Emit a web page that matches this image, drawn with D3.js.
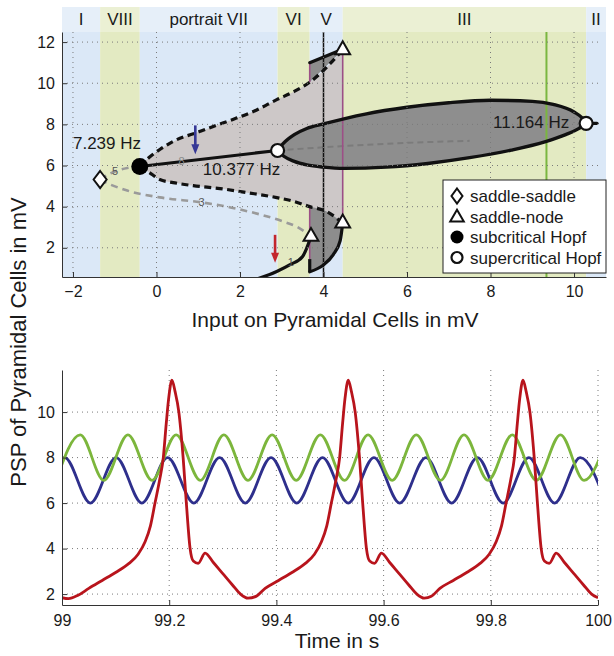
<!DOCTYPE html>
<html><head><meta charset="utf-8">
<script src="https://cdn.jsdelivr.net/npm/d3@7"></script>
<style>
body{margin:0;background:#fff}
svg{display:block}
text{font-family:"Liberation Sans",Arial,Helvetica,sans-serif;fill:#1a1a1a}
</style>
</head><body>
<svg id="c" width="614" height="656"></svg>
<script>
// ---------------- DATA (top panel: bifurcation diagram) ----------------
const regionNames  = ["I","VIII","portrait VII","VI","V","III","II"];
const regionBounds = [-2.263,-1.35,-0.40,2.90,3.67,4.46,10.29,10.766];
const regionKinds  = ["b","y","b","y","b","y","b"];
const topXTicks = [-2,0,2,4,6,8,10];
const topYTicks = [2,4,6,8,10,12];

const upperDashed = [[-0.40,5.95],[-0.2,6.35],[0.08,6.78],[0.40,7.17],[1.05,7.66],[1.36,7.9],[1.83,8.24],[2.4,8.7],[2.88,9.2],[3.3,9.6],[3.67,10.05],[4.46,11.62]];
const lowerDashed = [[-0.40,5.95],[-0.2,5.7],[0.08,5.32],[0.4,5.17],[0.88,5.02],[1.52,4.88],[2.17,4.68],[2.88,4.44],[3.3,4.25],[3.67,4.0],[4.08,3.76],[4.46,3.2]];
const grayDashedUp  = [[-1.35,5.32],[-1.1,5.62],[-0.7,5.88],[-0.40,5.95]];
const grayDashedLow = [[-1.35,5.3],[-1.1,5.07],[-0.7,4.78],[0.08,4.45],[1.11,4.2],[1.8,3.95],[2.48,3.62],[3.0,3.3],[3.4,2.98],[3.70,2.55]];
const hopfBranch   = [[-0.40,5.95],[2.90,6.73]];
const insideDashed = [[2.90,6.73],[4.5,6.95],[6.0,7.1],[7.5,7.2]];
const lowerSolid1  = [[2.43,0.5],[2.88,0.85],[3.2,1.18],[3.5,1.58],[3.70,2.55]];
const lowerSolid2  = [[3.67,0.83],[4.0,1.17],[4.23,1.66],[4.4,2.35],[4.46,3.2]];
const lowerStep    = [[3.67,1.45],[3.67,0.83]];
const upperSolid   = [[3.67,11.0],[4.46,11.65]];
const ellipseTop = [[2.90,6.73],[3.05,7.1],[3.3,7.5],[3.6,7.8],[4.0,8.02],[5.0,8.5],[6.0,8.83],[7.0,9.05],[8.0,9.17],[9.0,9.12],[9.5,8.97],[10.0,8.6],[10.2,8.3],[10.29,8.05]];
const ellipseBot = [[2.90,6.73],[3.05,6.45],[3.3,6.2],[3.6,6.03],[4.0,5.92],[4.5,5.86],[5.5,5.92],[6.5,6.1],[7.5,6.38],[8.5,6.75],[9.3,7.15],[9.8,7.5],[10.1,7.78],[10.29,8.05]];
const tailRight = [[10.29,8.05],[10.55,8.05]];
const purpleLines = [[3.67,10.05,11.0],[3.67,4.0,1.45],[4.46,11.62,3.2]];
const vBlack = 4.0, vGreen = 9.34;
const arrows = [{x:0.93,y0:7.95,y1:6.55,c:"#363896"},{x:2.84,y0:2.63,y1:1.27,c:"#c3262c"}];
const saddleSaddle = [[-1.35,5.32]];
const saddleNode   = [[3.70,2.55],[4.46,11.62],[4.46,3.2]];
const subHopf      = [[-0.40,5.95]];
const superHopf    = [[2.90,6.73],[10.29,8.05]];
const hzLabels = [["7.239 Hz",-2.0,6.78],["10.377 Hz",1.11,5.56],["11.164 Hz",8.06,7.8]];
const branchLabels = [["5",-0.99,5.72],["3",1.08,4.2],["8",0.6,6.2],["1",3.22,1.3]];
const legendItems = ["saddle-saddle","saddle-node","subcritical Hopf","supercritical Hopf"];

// ---------------- DATA (bottom panel: time series) ----------------
const botXTicks = [99,99.2,99.4,99.6,99.8,100];
const botYTicks = [2,4,6,8,10];
const greenSeries = [[98.989,7],[99.034,9],[99.078,7],[99.123,9],[99.168,7],[99.213,9],[99.258,7],[99.302,9],[99.347,7],[99.392,9],[99.437,7],[99.482,9],[99.527,7],[99.571,9],[99.616,7],[99.661,9],[99.706,7],[99.750,9],[99.795,7],[99.840,9],[99.885,7],[99.930,9],[99.974,7],[100.019,9]];
const blueSeries = [[98.957,6],[99.005,8],[99.053,6],[99.101,8],[99.149,6],[99.197,8],[99.246,6],[99.294,8],[99.342,6],[99.390,8],[99.438,6],[99.486,8],[99.534,6],[99.582,8],[99.630,6],[99.679,8],[99.727,6],[99.775,8],[99.823,6],[99.871,8],[99.919,6],[99.967,8],[100.015,6]];
const redSeries = [
 [99.000,1.84],[99.012,1.80],[99.030,1.95],[99.050,2.25],[99.075,2.6],[99.100,2.95],[99.125,3.35],[99.142,3.75],[99.155,4.3],[99.165,5.0],[99.1735,6.0],[99.182,7.0],[99.189,8.0],[99.1945,9.5],[99.199,10.6],[99.205,11.4],[99.211,10.9],[99.218,10.0],[99.226,8.0],[99.232,6.0],[99.239,4.0],[99.245,3.45],[99.254,3.35],[99.267,3.8],[99.282,3.4],[99.300,2.9],[99.318,2.4],[99.333,2.0],[99.347,1.82],
 [99.362,1.9],[99.379,2.25],[99.404,2.6],[99.429,2.95],[99.454,3.35],[99.471,3.75],[99.484,4.3],[99.494,5.0],[99.5025,6.0],[99.511,7.0],[99.518,8.0],[99.5235,9.5],[99.528,10.6],[99.534,11.4],[99.540,10.9],[99.547,10.0],[99.555,8.0],[99.561,6.0],[99.568,4.0],[99.574,3.45],[99.583,3.35],[99.596,3.8],[99.611,3.4],[99.629,2.9],[99.647,2.4],[99.662,2.0],[99.676,1.82],
 [99.689,1.9],[99.705,2.25],[99.730,2.6],[99.755,2.95],[99.780,3.35],[99.797,3.75],[99.810,4.3],[99.820,5.0],[99.8285,6.0],[99.837,7.0],[99.844,8.0],[99.8495,9.5],[99.854,10.6],[99.860,11.4],[99.866,10.9],[99.873,10.0],[99.881,8.0],[99.887,6.0],[99.894,4.0],[99.900,3.45],[99.909,3.35],[99.922,3.8],[99.937,3.4],[99.955,2.9],[99.973,2.4],[99.988,2.0],[100.000,1.84]];

// ---------------- DRAWING ----------------
const svg = d3.select("#c");
const defs = svg.append("defs");
const T = {l:62,r:606,t:32,b:277,ht:7};
const B = {l:62,r:598,t:370,b:605};
const xT = d3.scaleLinear().domain([-2.263,10.766]).range([T.l,T.r]);
const yT = d3.scaleLinear().domain([0.58,12.49]).range([T.b,T.t]);
const xB = d3.scaleLinear().domain([99,100]).range([B.l,B.r]);
const yB = d3.scaleLinear().domain([1.52,11.85]).range([B.b,B.t]);

defs.append("clipPath").attr("id","clipT").append("rect").attr("x",T.l).attr("y",T.t).attr("width",T.r-T.l).attr("height",T.b-T.t);
defs.append("clipPath").attr("id","clipB").append("rect").attr("x",B.l).attr("y",B.t-10).attr("width",B.r-B.l).attr("height",B.b-B.t+10);

const plotCol = {b:"#dbe8f7",y:"#e3eac2"}, headCol = {b:"#e6eff9",y:"#ebf0d4"};
const gTop = svg.append("g");
regionNames.forEach((n,i)=>{
  const x0 = xT(regionBounds[i]), x1 = xT(regionBounds[i+1]);
  gTop.append("rect").attr("x",x0).attr("y",T.t).attr("width",x1-x0).attr("height",T.b-T.t).attr("fill",plotCol[regionKinds[i]]);
  gTop.append("rect").attr("x",x0).attr("y",T.ht).attr("width",x1-x0).attr("height",T.t-T.ht).attr("fill",headCol[regionKinds[i]]);
  gTop.append("text").attr("x",(x0+x1)/2).attr("y",25).attr("text-anchor","middle").attr("font-size",17).text(n);
});

const lineC = d3.line().x(d=>xT(d[0])).y(d=>yT(d[1])).curve(d3.curveMonotoneX);
const lineL = d3.line().x(d=>xT(d[0])).y(d=>yT(d[1]));
const gC = gTop.append("g").attr("clip-path","url(#clipT)");

// light gray region between dashed branches
gC.append("path").attr("d", lineC(upperDashed)+"L"+lineC(lowerDashed.slice().reverse()).slice(1)+"Z").attr("fill","#cdc8c8");
// dark gray pieces
gC.append("path").attr("d", lineL([[3.67,10.05],upperSolid[0],upperSolid[1],[4.46,11.62]])+"Z").attr("fill","#8d8d8d");
gC.append("path").attr("d", lineC(lowerDashed.filter(d=>d[0]>=3.67))+"L"+lineC(lowerSolid2.slice().reverse()).slice(1)+"Z").attr("fill","#8d8d8d");
// ellipse fill
gC.append("path").attr("d", lineC(ellipseTop)+"L"+lineC(ellipseBot.slice().reverse()).slice(1)+"Z").attr("fill","#8e8e8e");

// grid
const grid = gTop.append("g").attr("stroke","#7a7a7a").attr("stroke-width",1).attr("stroke-dasharray","1,4");
topXTicks.forEach(v=>grid.append("line").attr("x1",xT(v)).attr("x2",xT(v)).attr("y1",T.t).attr("y2",T.b));
topYTicks.forEach(v=>grid.append("line").attr("x1",T.l).attr("x2",598).attr("y1",yT(v)).attr("y2",yT(v)));

// vertical reference lines
gC.append("line").attr("x1",xT(vGreen)).attr("x2",xT(vGreen)).attr("y1",T.t).attr("y2",T.b).attr("stroke","#7ab640").attr("stroke-width",2);
gC.append("path").attr("d",lineC(insideDashed)).attr("fill","none").attr("stroke","#7b7b7b").attr("stroke-width",2).attr("stroke-dasharray","6,4");
purpleLines.forEach(p=>gC.append("line").attr("x1",xT(p[0])).attr("x2",xT(p[0])).attr("y1",yT(p[1])).attr("y2",yT(p[2])).attr("stroke","#9c4f86").attr("stroke-width",1.6));
gC.append("line").attr("x1",xT(vBlack)).attr("x2",xT(vBlack)).attr("y1",T.t).attr("y2",T.b).attr("stroke","#111").attr("stroke-width",1.5);

// gray dashed branches
[grayDashedUp,grayDashedLow].forEach(d=>gC.append("path").attr("d",lineC(d)).attr("fill","none").attr("stroke","#9a9a9a").attr("stroke-width",2.6).attr("stroke-dasharray","7,5"));
// black dashed branches
[upperDashed,lowerDashed].forEach(d=>gC.append("path").attr("d",lineC(d)).attr("fill","none").attr("stroke","#111").attr("stroke-width",3.2).attr("stroke-dasharray","7,4.5"));
// solid branches
[hopfBranch,lowerSolid1,lowerSolid2,upperSolid,tailRight].forEach(d=>gC.append("path").attr("d",lineC(d)).attr("fill","none").attr("stroke","#111").attr("stroke-width",3.2).attr("stroke-linecap","round"));
gC.append("path").attr("d",lineL(lowerStep)).attr("fill","none").attr("stroke","#111").attr("stroke-width",3.2);
gC.append("path").attr("d",lineC(ellipseTop)+"L"+lineC(ellipseBot.slice().reverse()).slice(1)).attr("fill","none").attr("stroke","#111").attr("stroke-width",3.4);

// arrows
arrows.forEach(a=>{
  const X=xT(a.x), Y0=yT(a.y0), Y1=yT(a.y1);
  gC.append("line").attr("x1",X).attr("x2",X).attr("y1",Y0).attr("y2",Y1-8).attr("stroke",a.c).attr("stroke-width",2.6);
  gC.append("path").attr("d",`M${X-4},${Y1-10}L${X+4},${Y1-10}L${X},${Y1}Z`).attr("fill",a.c);
});

// branch labels
branchLabels.forEach(l=>gTop.append("text").attr("x",xT(l[1])).attr("y",yT(l[2])).attr("dy","0.35em").attr("text-anchor","middle").attr("font-size",11).style("fill",l[0]==="8"?"#888":"#555").text(l[0]));
// Hz labels
hzLabels.forEach(l=>gTop.append("text").attr("x",xT(l[1])).attr("y",yT(l[2])).attr("font-size",17).text(l[0]));

// markers
function diamond(g,cx,cy,w,h){g.append("path").attr("d",`M${cx},${cy-h}L${cx+w},${cy}L${cx},${cy+h}L${cx-w},${cy}Z`).attr("fill","#fff").attr("stroke","#111").attr("stroke-width",2);}
function tri(g,cx,cy,s){g.append("path").attr("transform",`translate(${cx},${cy})`).attr("d",d3.symbol(d3.symbolTriangle,s)()).attr("fill","#fff").attr("stroke","#111").attr("stroke-width",2);}
saddleSaddle.forEach(p=>diamond(gTop,xT(p[0]),yT(p[1]),6.5,8.5));
saddleNode.forEach(p=>tri(gTop,xT(p[0]),yT(p[1]),95));
subHopf.forEach(p=>gTop.append("circle").attr("cx",xT(p[0])).attr("cy",yT(p[1])).attr("r",8.5).attr("fill","#000"));
superHopf.forEach(p=>gTop.append("circle").attr("cx",xT(p[0])).attr("cy",yT(p[1])).attr("r",6.5).attr("fill","#fff").attr("stroke","#111").attr("stroke-width",2.2));

// top axes
const axT = gTop.append("g").attr("class","ax");
axT.append("g").attr("transform",`translate(0,${T.b})`).call(d3.axisBottom(xT).tickValues(topXTicks).tickSizeInner(-5).tickSizeOuter(0).tickPadding(9).tickFormat(d3.format("d")));
axT.append("g").attr("transform",`translate(${T.l},0)`).call(d3.axisLeft(yT).tickValues(topYTicks).tickSizeInner(-5).tickSizeOuter(0).tickPadding(7).tickFormat(d3.format("d")));
svg.append("text").attr("x",335).attr("y",327).attr("text-anchor","middle").attr("font-size",21).text("Input on Pyramidal Cells in mV");

// legend
const lg = svg.append("g");
lg.append("rect").attr("x",443).attr("y",180).attr("width",163).attr("height",93).attr("fill","#fff").attr("stroke","#222").attr("stroke-width",1);
legendItems.forEach((t,i)=>{
  const cy = 196 + i*20.5, cx = 457;
  if(i===0) diamond(lg,cx,cy,5.5,7.5);
  if(i===1) tri(lg,cx,cy+1,80);
  if(i===2) lg.append("circle").attr("cx",cx).attr("cy",cy).attr("r",6.5).attr("fill","#000");
  if(i===3) lg.append("circle").attr("cx",cx).attr("cy",cy).attr("r",5.5).attr("fill","#fff").attr("stroke","#111").attr("stroke-width",2.2);
  lg.append("text").attr("x",470).attr("y",cy+6).attr("font-size",17).text(t);
});

// ---------------- bottom panel ----------------
const gB = svg.append("g");
const gridB = gB.append("g").attr("stroke","#7a7a7a").attr("stroke-width",1).attr("stroke-dasharray","1,4");
botXTicks.slice(1).forEach(v=>gridB.append("line").attr("x1",xB(v)).attr("x2",xB(v)).attr("y1",B.t).attr("y2",B.b));
botYTicks.forEach(v=>gridB.append("line").attr("x1",B.l).attr("x2",B.r).attr("y1",yB(v)).attr("y2",yB(v)));
const lineB = d3.line().x(d=>xB(d[0])).y(d=>yB(d[1])).curve(d3.curveMonotoneX);
const gBC = gB.append("g").attr("clip-path","url(#clipB)");
gBC.append("path").attr("d",lineB(blueSeries)).attr("fill","none").attr("stroke","#2e2f8c").attr("stroke-width",2.8);
gBC.append("path").attr("d",lineB(greenSeries)).attr("fill","none").attr("stroke","#7cb63c").attr("stroke-width",2.8);
gBC.append("path").attr("d",lineB(redSeries)).attr("fill","none").attr("stroke","#b8141c").attr("stroke-width",2.8).attr("stroke-linejoin","round");
gB.append("g").attr("transform",`translate(0,${B.b})`).call(d3.axisBottom(xB).tickValues(botXTicks).tickSizeInner(-5).tickSizeOuter(0).tickPadding(10).tickFormat(d=>d===100?"100":d3.format(".1f")(d).replace(".0","")));
gB.append("g").attr("transform",`translate(${B.l},0)`).call(d3.axisLeft(yB).tickValues(botYTicks).tickSizeInner(-5).tickSizeOuter(0).tickPadding(7).tickFormat(d3.format("d")));
svg.append("text").attr("x",337).attr("y",648).attr("text-anchor","middle").attr("font-size",21).text("Time in s");

svg.append("text").attr("transform","translate(26,342) rotate(-90)").attr("text-anchor","middle").attr("font-size",22).text("PSP of Pyramidal Cells in mV");

svg.selectAll(".tick text").attr("font-size",16).style("fill","#1a1a1a").attr("font-family","'Liberation Sans',Arial,sans-serif");
svg.selectAll(".domain").attr("stroke","#333");
svg.selectAll(".tick line").attr("stroke","#333");
</script>
</body></html>
